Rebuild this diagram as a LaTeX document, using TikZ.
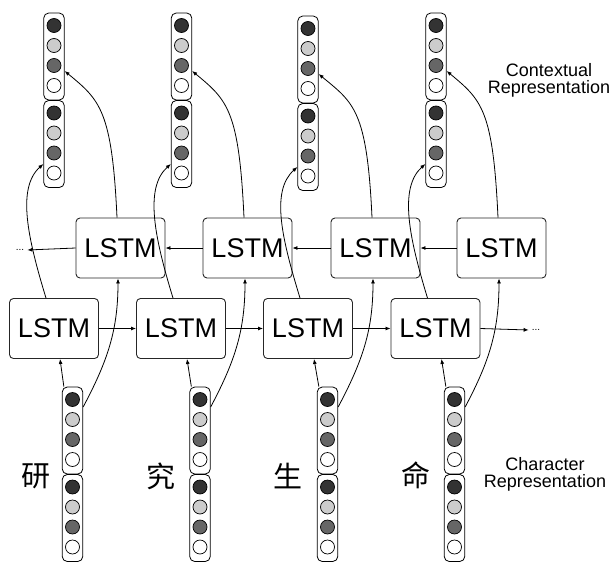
\documentclass[tikz,border=0pt]{standalone}
\usepackage{fontspec}
\setmainfont{Liberation Sans}
\newfontfamily\cjk{Noto Sans CJK SC}
\usetikzlibrary{arrows.meta}
\definecolor{cdark}{HTML}{333333}
\definecolor{clight}{HTML}{CCCCCC}
\definecolor{cmid}{HTML}{666666}
\tikzset{
  lstm/.style={draw=black!85, rounded corners=4pt, minimum width=89pt, minimum height=60pt,
    inner sep=0pt, font=\fontsize{27}{27}\selectfont, line width=0.9pt},
  vbox/.style={draw, rounded corners=5pt, minimum width=20.5pt, minimum height=87pt,
    inner sep=0pt, line width=0.8pt},
  unit/.style={circle, draw, minimum size=14pt, inner sep=0pt, line width=0.7pt},
  conn/.style={line width=0.8pt, -{Latex[length=5pt,width=4pt]}},
  dots/.style={font=\fontsize{10}{10}\selectfont, inner sep=3pt},
  chr/.style={font=\cjk\fontsize{29}{29}\selectfont, inner sep=0pt},
  lbl/.style={align=center, font=\fontsize{18}{17}\selectfont, inner sep=0pt}
}
\newcommand\vecpair[3]{%
  \node[vbox] (#1A) at (#2,#3+43.5) {};
  \node[vbox] (#1B) at (#2,#3+131) {};
  \foreach \k/\c in {0/cdark,1/clight,2/cmid,3/white}{
    \node[unit, fill=\c] (#1A\k) at (#2,#3+12.5+20*\k) {};
    \node[unit, fill=\c] (#1B\k) at (#2,#3+100+20*\k) {};
  }%
}
\begin{document}
\begin{tikzpicture}[x=1pt,y=-1pt]
\useasboundingbox (0,0) rectangle (611,563);
% vectors
\vecpair{t1}{54}{13}
\vecpair{t2}{181.5}{13}
\vecpair{t3}{308}{16}
\vecpair{t4}{436}{13}
\vecpair{b1}{72.5}{387}
\vecpair{b2}{200}{387}
\vecpair{b3}{327.5}{387}
\vecpair{b4}{454.5}{387}
% LSTM cells
\node[lstm] (U1) at (120.5,248) {LSTM};
\node[lstm] (U2) at (247.5,248) {LSTM};
\node[lstm] (U3) at (375.5,248) {LSTM};
\node[lstm] (U4) at (501.5,248) {LSTM};
\node[lstm] (L1) at (54,328.5) {LSTM};
\node[lstm] (L2) at (181,328.5) {LSTM};
\node[lstm] (L3) at (308,328.5) {LSTM};
\node[lstm] (L4) at (435.5,328.5) {LSTM};
% ellipses
\node[dots] (ldots) at (20,250) {...};
\node[dots] (rdots) at (536,330) {...};
% characters
\node[chr] (c1) at (36,476) {研};
\node[chr] (c2) at (161,476) {究};
\node[chr] (c3) at (288,476) {生};
\node[chr] (c4) at (416,475) {命};
% labels
\node[lbl] (ctx) at (549,80) {Contextual\\Representation};
\node[lbl] (chrlbl) at (545,474.5) {Character\\Representation};
% recurrent arrows
\draw[conn] (U4.west) -- (U3.east);
\draw[conn] (U3.west) -- (U2.east);
\draw[conn] (U2.west) -- (U1.east);
\draw[conn] (U1.west) -- (ldots.east);
\draw[conn] (L1.east) -- (L2.west);
\draw[conn] (L2.east) -- (L3.west);
\draw[conn] (L3.east) -- (L4.west);
\draw[conn] (L4.east) -- (rdots.west);
% per-column connectors
\foreach \i in {1,2,3,4}{
  \draw[conn] ([xshift=2pt]b\i A.north west) -- ([xshift=6pt]L\i.south);
  \draw[conn] ([yshift=23.5pt]b\i A.east) .. controls +(25,-47) and +(0,51) .. ([xshift=-2.5pt]U\i.south);
  \draw[conn] ([xshift=-8pt]L\i.north) .. controls +(-18,-59) and +(-27,24) .. ([yshift=-20pt]t\i B.west);
  \draw[conn] ([xshift=-3.5pt]U\i.north) .. controls +(-5,-108) and +(35,29) .. ([yshift=-14.5pt]t\i A.east);
}
\end{tikzpicture}
\end{document}
